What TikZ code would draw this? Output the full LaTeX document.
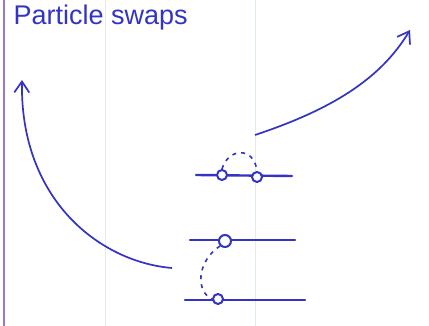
\documentclass[tikz,border=0pt]{standalone}
\usepackage{fontspec}
\setmainfont{Liberation Sans}
\usetikzlibrary{arrows.meta}
\definecolor{ink}{RGB}{52,52,196}
\definecolor{margin}{RGB}{150,120,220}
\definecolor{rule}{RGB}{225,235,245}
\tikzset{
	site/.style={draw=ink,circle,line width=2pt,inner sep=0,minimum size=10pt},
	wire/.style={ink,line width=2.4pt,line cap=round},
	hop/.style={ink,line width=1.6pt,dashed,dash pattern=on 4pt off 5pt},
	sweep/.style={ink,line width=1.7pt,-{Straight Barb[length=11pt,width=15pt]}}
}
\begin{document}
\begin{tikzpicture}[x=1pt,y=-1pt]
	\useasboundingbox (0,0) rectangle (429,326);
	% notebook page
	\fill [white] (0,0) rectangle (429,326);
	\draw [rule, line width=1pt] (105,0) -- (105,326);
	\draw [rule, line width=1pt] (255,0) -- (255,326);
	\draw [margin, line width=1.5pt] (4,0) -- (4,326);
	\node [ink,anchor=west,font=\fontsize{27}{27}\selectfont] at (10,18) (title) {Particle swaps};

	% three rows of sites
	\coordinate (r1a) at (196,175); \coordinate (r1b) at (292,176);
	\coordinate (r2a) at (190,240); \coordinate (r2b) at (295,240);
	\coordinate (r3a) at (185,300); \coordinate (r3b) at (305,300);
	\draw [wire] (r1a) -- (r1b);
	\draw [wire] (r2a) -- (r2b);
	\draw [wire] (r3a) -- (r3b);
	\node [site,fill=white] at (222,175) (p) {};
	\node [site,fill=white] at (257,177) (q) {};
	\node [site,fill=white,minimum size=12pt] at (225,241) (m) {};
	\node [site,fill=white] at (218,299) (n) {};

	% swaps
	\draw [hop] (p.north) .. controls (228,148) and (254,146) .. (q.north);
	\draw [hop] (m.south west) .. controls (196,262) and (196,292) .. (n.west);

	% where they go
	\coordinate (l0) at (172,268); \coordinate (l1) at (22,80);
	\coordinate (g0) at (255,135); \coordinate (g1) at (410,30);
	\draw [sweep] (l0) .. controls (100,262) and (20,200) .. (l1);
	\draw [sweep] (g0) .. controls (330,110) and (380,80) .. (g1);
\end{tikzpicture}
\end{document}
